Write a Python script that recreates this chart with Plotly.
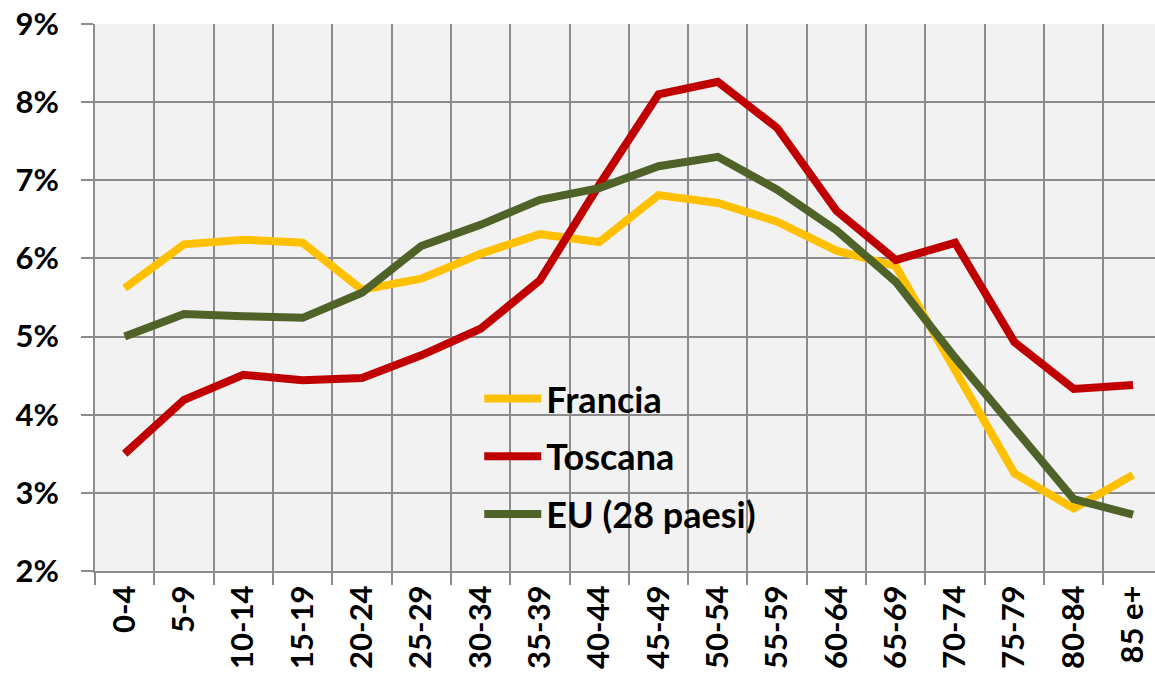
import plotly.graph_objects as go

categories = ["0-4", "5-9", "10-14", "15-19", "20-24", "25-29", "30-34", "35-39",
              "40-44", "45-49", "50-54", "55-59", "60-64", "65-69", "70-74",
              "75-79", "80-84", "85 e+"]
francia = [5.62, 6.18, 6.24, 6.20, 5.60, 5.74, 6.06, 6.31, 6.21, 6.81, 6.71,
           6.47, 6.10, 5.90, 4.57, 3.25, 2.80, 3.23]
toscana = [3.50, 4.19, 4.51, 4.44, 4.47, 4.76, 5.10, 5.72, 6.94, 8.10, 8.26,
           7.67, 6.61, 5.98, 6.20, 4.93, 4.33, 4.38]
eu28 = [5.00, 5.29, 5.26, 5.24, 5.56, 6.16, 6.43, 6.75, 6.90, 7.18, 7.30,
        6.88, 6.36, 5.70, 4.73, 3.83, 2.92, 2.72]
series_names = ["Francia", "Toscana", "EU (28 paesi)"]
colors = ["#FFC000", "#C00000", "#4F6228"]

FONT = "Lato"
fig = go.Figure()
for i, (name, vals) in enumerate(zip(series_names, [francia, toscana, eu28])):
    fig.add_trace(go.Scatter(
        x=categories, y=vals, name=name, mode="lines",
        line=dict(color=colors[i], width=8),
        legendgroup=name,
    ))

grid = "#8C8C8C"
fig.update_layout(
    width=1155, height=682,
    margin=dict(l=95, r=0, t=24, b=111),
    paper_bgcolor="white", plot_bgcolor="#F2F2F2",
    font=dict(family=FONT, size=31, color="black", weight="bold"),
    showlegend=True,
    legend=dict(x=0.3625, y=0.37, xanchor="left", yanchor="top",
                bgcolor="rgba(0,0,0,0)", tracegroupgap=8, itemwidth=57,
                font=dict(family=FONT, size=36, color="black", weight="bold")),
    xaxis=dict(
        type="category", range=[-0.5, 17.37], tickson="boundaries",
        showgrid=True, gridcolor=grid, gridwidth=2, automargin=False,
        ticks="outside", ticklen=12, tickcolor=grid, tickwidth=2,
        tickangle=-90, showline=True, linecolor=grid, linewidth=2,
        ticklabeloverflow="allow",
        tickfont=dict(family=FONT, size=31, color="black", weight="bold"),
    ),
    yaxis=dict(
        range=[2, 9], dtick=1, ticksuffix="%", automargin=False,
        showgrid=True, gridcolor=grid, gridwidth=2,
        ticks="outside", ticklen=12, tickcolor=grid, tickwidth=2,
        showline=True, linecolor=grid, linewidth=2, zeroline=False,
        ticklabelstandoff=16, ticklabeloverflow="allow",
        tickfont=dict(family=FONT, size=31, color="black", weight="bold"),
    ),
)
fig.write_html("out.html", config={"displayModeBar": False},
               post_script="document.body.style.margin='0';document.body.style.padding='0';")
